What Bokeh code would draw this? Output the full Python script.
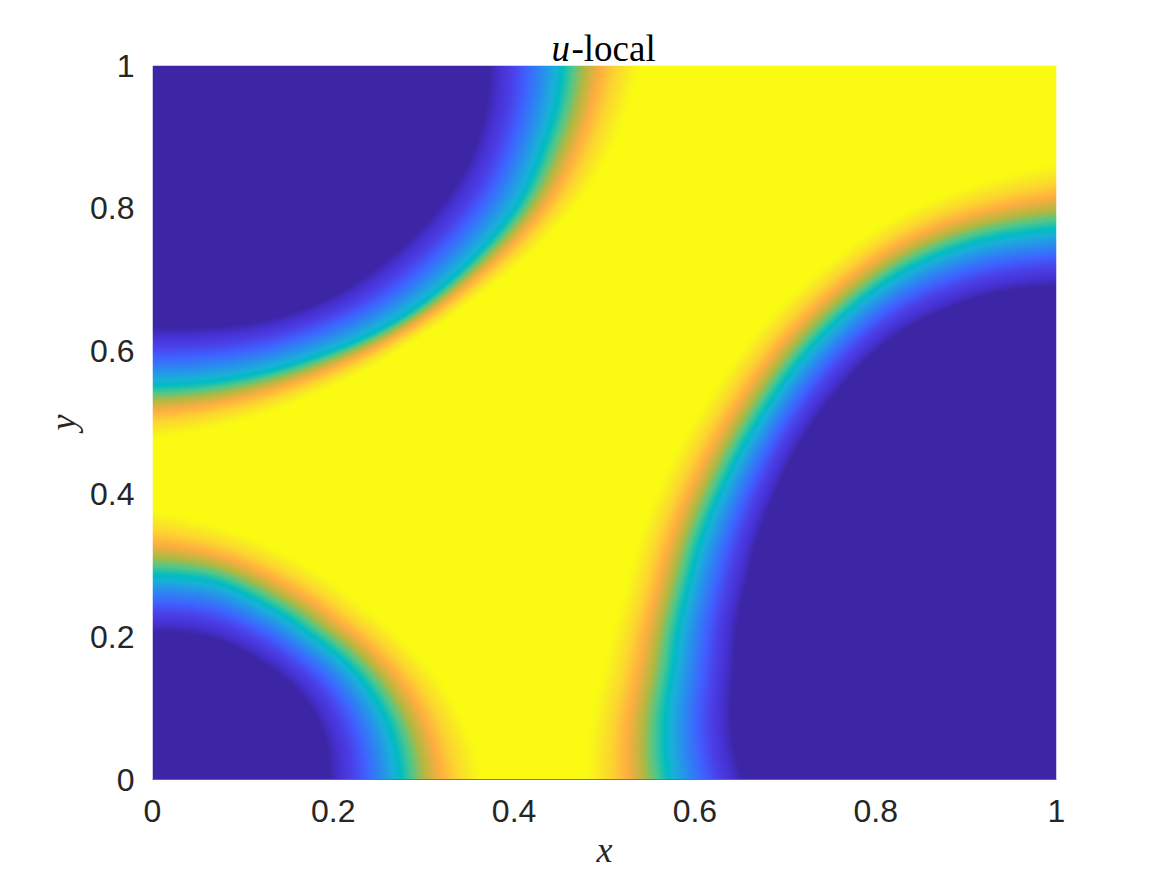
import numpy as np
from bokeh.plotting import figure
from bokeh.models import Range1d, FixedTicker, Label
from bokeh.embed import file_html
from bokeh.resources import INLINE

title_math = "u"
title_text = "-local"
x_label = "x"
y_label = "y"
x_ticks = [0, 0.2, 0.4, 0.6, 0.8, 1]
y_ticks = [0, 0.2, 0.4, 0.6, 0.8, 1]

# Contours: edge of the dark region, teal ridge, edge of the yellow region
top_left_corner = (0.0, 1.0)
top_left_dark = [(.372, 1.0), (.3665, .9276), (.3444, .853), (.3075, .7876), (.252, .722), (.197, .6755), (.123, .643), (.0494, .6335), (0, .6335)]
top_left_teal = [(.453, 1.0), (.4458, .937), (.4329, .890), (.4034, .8016), (.3665, .7455), (.337, .708), (.2707, .643), (.1785, .5915), (.0863, .561), (0, .552)]
top_left_yellow = [(.54, 1.0), (.525, .937), (.492, .8436), (.4366, .7595), (.363, .680), (.289, .615), (.197, .5494), (.0863, .498), (0, .477)]

bottom_left_corner = (0.0, 0.0)
bottom_left_dark = [(0, .2063), (.0678, .197), (.123, .162), (.16, .1246), (.1858, .0733), (.195, 0)]
bottom_left_teal = [(0, .2857), (.0678, .2787), (.123, .246), (.1785, .1993), (.2264, .148), (.2596, .0826), (.2743, 0)]
bottom_left_yellow = [(0, .3768), (.0863, .3487), (.16, .3067), (.2338, .2413), (.289, .1807), (.337, .1013), (.3647, 0)]

right_corner = (1.0, 0.0)
right_dark = [(1, .69), (.938, .685), (.827, .629), (.75, .531), (.69, .40), (.66, .28), (.645, .155), (.6534, 0)]
right_teal = [(1, .7707), (.912, .756), (.8273, .7126), (.7425, .6255), (.6746, .5093), (.6279, .399), (.594, .2712), (.577, .155), (.5706, 0)]
right_yellow = [(1, .8636), (.912, .8345), (.8273, .794), (.7425, .7183), (.6788, .643), (.615, .5326), (.564, .4164), (.526, .2712), (.5006, .155), (.4794, 0)]

# Colour stops read across the transition band
band_pos = [0, .07, .163, .256, .36, .453, .5, .569, .647, .745, .843, .98, 1]
band_colors = ["#3c26a5", "#4630d0", "#4a40e8", "#4060ff", "#2a8af0", "#1ab0d8", "#00bcc4", "#4cc88c", "#b4b840", "#ffae40", "#fcd530", "#f8f818", "#fafa12"]

NX, NY = 904, 714
gx = (np.arange(NX) + .5) / NX
gy = (np.arange(NY) + .5) / NY
X, Y = np.meshgrid(gx, gy)

TH = np.linspace(0, np.pi / 2, 721)
KERNEL = np.exp(-.5 * (np.arange(-60, 61) / 20.0) ** 2)
KERNEL /= KERNEL.sum()


def radius_table(pts, corner):
    a = np.array(pts, dtype=float)
    dx, dy = np.abs(a[:, 0] - corner[0]), np.abs(a[:, 1] - corner[1])
    t, v = np.arctan2(dy, dx), np.hypot(dx, dy)
    o = np.argsort(t)
    r = np.interp(TH, t[o], v[o])
    # smooth the read polyline, extending each end along its own slope
    n = 60
    left = r[0] - (r[n] - r[0]) * np.arange(n, 0, -1) / n
    right = r[-1] + (r[-1] - r[-1 - n]) * np.arange(1, n + 1) / n
    return np.convolve(np.r_[left, r, right], KERNEL, mode="same")[n:-n]


def blob_level(corner, dark, teal, yellow):
    dx, dy = np.abs(X - corner[0]), np.abs(Y - corner[1])
    th, r = np.arctan2(dy, dx), np.hypot(dx, dy)
    r0, r1, r2 = [np.interp(th, TH, radius_table(c, corner)) for c in (dark, teal, yellow)]
    return np.where(r < r1, .5 * (r - r0) / (r1 - r0), .5 + .5 * (r - r1) / (r2 - r1)).clip(0, 1)


level = np.minimum.reduce([
    blob_level(top_left_corner, top_left_dark, top_left_teal, top_left_yellow),
    blob_level(bottom_left_corner, bottom_left_dark, bottom_left_teal, bottom_left_yellow),
    blob_level(right_corner, right_dark, right_teal, right_yellow),
])

stops = np.array([[int(c[i:i + 2], 16) for i in (1, 3, 5)] for c in band_colors], dtype=float)
rgba = np.zeros((NY, NX, 4), dtype=np.uint8)
for i in range(3):
    rgba[..., i] = np.interp(level, band_pos, stops[:, i]).round().astype(np.uint8)
rgba[..., 3] = 255
img = rgba.view(dtype=np.uint32).reshape(NY, NX)

p = figure(frame_width=904, frame_height=714, output_backend="svg", toolbar_location=None,
           x_range=Range1d(0, 1), y_range=Range1d(0, 1),
           min_border_left=152, min_border_right=94, min_border_top=65, min_border_bottom=81)
p.image_rgba(image=[img], x=0, y=0, dw=1, dh=1)
p.grid.visible = False
p.outline_line_color = "#ffffff"
p.outline_line_alpha = 0.3

for ax, ticks, lab in ((p.xaxis[0], x_ticks, x_label), (p.yaxis[0], y_ticks, y_label)):
    ax.ticker = FixedTicker(ticks=ticks)
    ax.major_tick_line_color = None
    ax.minor_tick_line_color = None
    ax.major_label_text_font = "Liberation Sans"
    ax.major_label_text_font_size = "32px"
    ax.major_label_text_color = "#262626"
    ax.major_label_standoff = 12
    ax.axis_label = lab
    ax.axis_label_text_font = "Liberation Serif"
    ax.axis_label_text_font_style = "italic"
    ax.axis_label_text_font_size = "36px"
    ax.axis_label_text_color = "#262626"
p.xaxis[0].axis_line_color = "#262626"
p.xaxis[0].axis_line_alpha = 0.6
p.xaxis[0].major_label_standoff = 14
p.yaxis[0].axis_line_color = None
p.xaxis[0].axis_label_standoff = 5
p.yaxis[0].axis_label_standoff = 4

# The side panels are not clipped to the frame; each panel holds one of the two title pieces.
p.add_layout(Label(x=399, y=17, x_units="screen", y_units="screen", text=title_math,
                   text_font="Liberation Serif", text_font_style="italic",
                   text_font_size="37px", text_color="#000000", text_align="left",
                   text_baseline="alphabetic"), "above")
p.add_layout(Label(x=-485, y=731, x_units="screen", y_units="screen", text=title_text,
                   text_font="Liberation Serif", text_font_style="normal",
                   text_font_size="37px", text_color="#000000", text_align="left",
                   text_baseline="alphabetic"), "right")

open("out.html", "w").write(file_html(p, INLINE))
